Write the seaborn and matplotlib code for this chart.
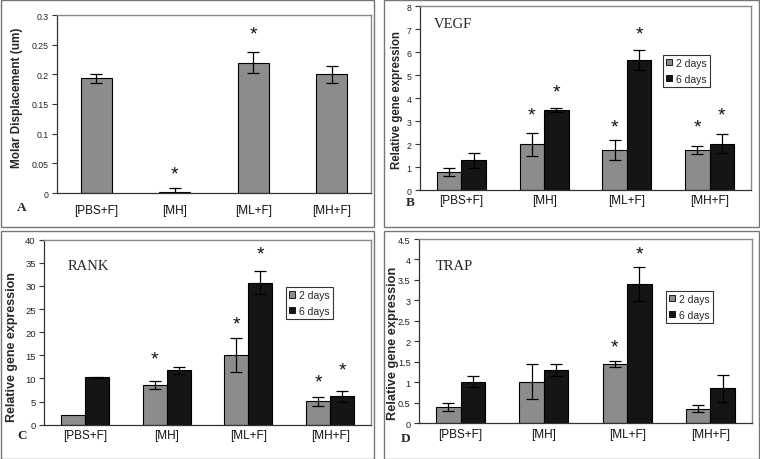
import numpy as np
import pandas as pd
import matplotlib
matplotlib.use("Agg")
import matplotlib.pyplot as plt
from matplotlib.patches import Rectangle, Patch
import seaborn as sns

# ---------------- data ----------------
categories = ["[PBS+F]", "[MH]", "[ML+F]", "[MH+F]"]
days = ["2 days", "6 days"]

disp_mean = [0.193, 0.001, 0.2195, 0.1998]
disp_err = [0.007, 0.007, 0.018, 0.015]
disp_star = [None, 0.037, 0.273, None]
disp_ticks = [0, 0.05, 0.1, 0.15, 0.2, 0.25, 0.3]
disp_ticklabels = ["0", "0.05", "0.1", "0.15", "0.2", "0.25", "0.3"]

vegf_2d = [0.80, 2.00, 1.75, 1.75]
vegf_2d_err = [0.18, 0.50, 0.43, 0.18]
vegf_6d = [1.30, 3.50, 5.65, 2.03]
vegf_6d_err = [0.33, 0.08, 0.43, 0.40]
vegf_star_2d = [None, 3.39, 2.88, 2.88]
vegf_star_6d = [None, 4.38, 6.94, 3.39]
vegf_ticks = [0, 1, 2, 3, 4, 5, 6, 7, 8]
vegf_ticklabels = ["0", "1", "2", "3", "4", "5", "6", "7", "8"]

rank_2d = [2.1, 8.6, 15.1, 5.05]
rank_2d_err = [np.nan, 0.85, 3.6, 1.0]
rank_6d = [10.25, 11.75, 30.7, 6.13]
rank_6d_err = [0.15, 0.8, 2.45, 1.15]
rank_star_2d = [None, 14.9, 22.3, 9.9]
rank_star_6d = [None, None, 37.5, 12.4]
rank_ticks = [0, 5, 10, 15, 20, 25, 30, 35, 40]
rank_ticklabels = ["0", "5", "10", "15", "20", "25", "30", "35", "40"]

trap_2d = [0.39, 1.02, 1.44, 0.36]
trap_2d_err = [0.10, 0.43, 0.07, 0.08]
trap_6d = [1.02, 1.30, 3.40, 0.85]
trap_6d_err = [0.13, 0.14, 0.42, 0.33]
trap_star_2d = [None, None, 1.94, None]
trap_star_6d = [None, None, 4.2, None]
trap_ticks = [0, 0.5, 1, 1.5, 2, 2.5, 3, 3.5, 4, 4.5]
trap_ticklabels = ["0", "0.5", "1", "1.5", "2", "2.5", "3", "3.5", "4", "4.5"]

# ---------------- style ----------------
sns.set_style("white")
plt.rcParams["font.family"] = ["Liberation Sans", "DejaVu Sans"]

GRAY = "#8c8c8c"
BLACK = "#151515"
W, H = 760, 460
STAR_SIZE = 14


def rect(l, t, r, b):
    return [l / W, 1 - b / H, (r - l) / W, (b - t) / H]


def fx(x):
    return x / W


def fy(y):
    return 1 - y / H


fig = plt.figure(figsize=(7.6, 4.6), dpi=100)

# panel frames
for (l, t, r, b) in [(1, 0.5, 374, 228), (384, 0.5, 759, 228),
                     (1, 232, 374, 459.5), (384, 232, 759, 459.5)]:
    fig.add_artist(Rectangle((fx(l), fy(b)), (r - l) / W, (b - t) / H,
                             transform=fig.transFigure, fill=False,
                             edgecolor="#777777", linewidth=1.0))


def style_axes(ax, box, ylim, yticks, yticklabels, ylab, ylab_size, ylab_px,
               tick_size, xpad):
    l, t, r, b = box
    ax.set_xlim(-0.5, 3.5)
    ax.set_ylim(*ylim)
    ax.set_yticks(yticks)
    ax.set_yticklabels(yticklabels, fontsize=tick_size, color="#222222")
    ax.set_xticks([-0.5, 0.5, 1.5, 2.5, 3.5])
    ax.set_xticklabels([])
    ax.set_xticks(range(len(categories)), minor=True)
    ax.set_xticklabels(categories, minor=True, fontsize=8.5, color="#111111")
    ax.tick_params(axis="x", which="major", direction="out", length=3,
                   width=0.8, color="#333333")
    ax.tick_params(axis="x", which="minor", length=0, pad=xpad)
    ax.tick_params(axis="y", direction="out", length=3.5, width=0.8,
                   color="#333333", pad=2.5, left=True)
    ax.set_xlabel("")
    ax.set_ylabel(ylab, fontsize=ylab_size, fontweight="bold")
    lx, ly = ylab_px
    ax.yaxis.set_label_coords((lx - l) / (r - l), (b - ly) / (b - t))
    ax.yaxis.label.set_verticalalignment("center")
    for s in ["left", "bottom"]:
        ax.spines[s].set_color("#333333")
        ax.spines[s].set_linewidth(0.9)
    for s in ["top", "right"]:
        ax.spines[s].set_color("#8a8a8a")
        ax.spines[s].set_linewidth(1.0)
    ax.grid(False)


def add_errors(ax, errs_in_order):
    bars = sorted(ax.patches, key=lambda p: p.get_x())
    xs = np.array([p.get_x() + p.get_width() / 2 for p in bars])
    hs = np.array([p.get_height() for p in bars])
    es = np.array(errs_in_order, dtype=float)
    ok = ~np.isnan(es)
    ax.errorbar(xs[ok], hs[ok], yerr=es[ok], fmt="none", ecolor="black",
                elinewidth=0.9, capsize=4.5, capthick=0.9, zorder=5)
    return xs


def add_stars(ax, xs, stars):
    for x, s in zip(xs, stars):
        if s is not None:
            ax.annotate("*", (x, s), xytext=(0, -0.38 * STAR_SIZE),
                        textcoords="offset points", ha="center",
                        va="baseline", fontsize=STAR_SIZE, color="#111111",
                        annotation_clip=False)


def grouped(ax, v2, v6, e2, e6, s2, s6):
    df = pd.DataFrame({
        "group": categories * 2,
        "day": [days[0]] * 4 + [days[1]] * 4,
        "value": list(v2) + list(v6),
    })
    sns.barplot(data=df, x="group", y="value", hue="day", order=categories,
                hue_order=days, palette=[GRAY, BLACK], width=0.59,
                errorbar=None, edgecolor="black", linewidth=0.8, ax=ax,
                legend=False)
    errs = []
    stars = []
    for i in range(4):
        errs += [e2[i], e6[i]]
        stars += [s2[i], s6[i]]
    xs = add_errors(ax, errs)
    add_stars(ax, xs, stars)


def legend(ax, l, t):
    handles = [Patch(facecolor=GRAY, edgecolor="black", linewidth=0.6),
               Patch(facecolor=BLACK, edgecolor="black", linewidth=0.6)]
    leg = ax.legend(handles=handles, labels=days, loc="upper left",
                    bbox_to_anchor=(fx(l), fy(t)),
                    bbox_transform=fig.transFigure, frameon=True,
                    fancybox=False, edgecolor="black", fontsize=7.5,
                    handlelength=0.6, handleheight=0.6, handletextpad=0.35,
                    borderpad=0.3, labelspacing=0.55, borderaxespad=0)
    leg.get_frame().set_linewidth(0.8)


# ---------------- panel A ----------------
boxA = (57, 16, 371, 194)
axA = fig.add_axes(rect(*boxA))
dfA = pd.DataFrame({"group": categories, "value": disp_mean})
sns.barplot(data=dfA, x="group", y="value", order=categories, color=GRAY,
            width=0.4, errorbar=None, edgecolor="black", linewidth=0.8,
            ax=axA, saturation=1)
xsA = add_errors(axA, disp_err)
add_stars(axA, xsA, disp_star)
style_axes(axA, boxA, (0, 0.3), disp_ticks, disp_ticklabels,
           "Molar Displacement (um)", 8.5, (17, 98), 6.3, 8)

# ---------------- panel B ----------------
boxB = (420, 7.3, 751, 191.3)
axB = fig.add_axes(rect(*boxB))
grouped(axB, vegf_2d, vegf_6d, vegf_2d_err, vegf_6d_err, vegf_star_2d,
        vegf_star_6d)
style_axes(axB, boxB, (0, 8), vegf_ticks, vegf_ticklabels,
           "Relative gene expression", 8.3, (397, 100), 6.3, 3)
legend(axB, 662.7, 55.7)

# ---------------- panel C ----------------
boxC = (44, 240.7, 371, 425.7)
axC = fig.add_axes(rect(*boxC))
grouped(axC, rank_2d, rank_6d, rank_2d_err, rank_6d_err, rank_star_2d,
        rank_star_6d)
style_axes(axC, boxC, (0, 40), rank_ticks, rank_ticklabels,
           "Relative gene expression", 9, (12, 347), 6.8, 3)
legend(axC, 286, 288)

# ---------------- panel D ----------------
boxD = (419, 240, 752, 424.3)
axD = fig.add_axes(rect(*boxD))
grouped(axD, trap_2d, trap_6d, trap_2d_err, trap_6d_err, trap_star_2d,
        trap_star_6d)
style_axes(axD, boxD, (0, 4.5), trap_ticks, trap_ticklabels,
           "Relative gene expression", 9.2, (393, 343), 6.6, 3.5)
legend(axD, 666, 291.7)

# ---------------- texts ----------------
serif = ["Liberation Serif", "DejaVu Serif"]
fig.text(fx(434), fy(25), "VEGF", family=serif, fontsize=10.5, ha="left",
         va="center")
fig.text(fx(68), fy(267), "RANK", family=serif, fontsize=10.5, ha="left",
         va="center")
fig.text(fx(436), fy(267), "TRAP", family=serif, fontsize=10.5, ha="left",
         va="center")
for letter, (x, y) in zip("ABCD", [(22, 208), (410.5, 203), (22, 436),
                                   (406, 439.5)]):
    fig.text(fx(x), fy(y), letter, family=serif, fontweight="bold",
             fontsize=9.5, ha="center", va="center")

fig.savefig("out.png", dpi=100)
